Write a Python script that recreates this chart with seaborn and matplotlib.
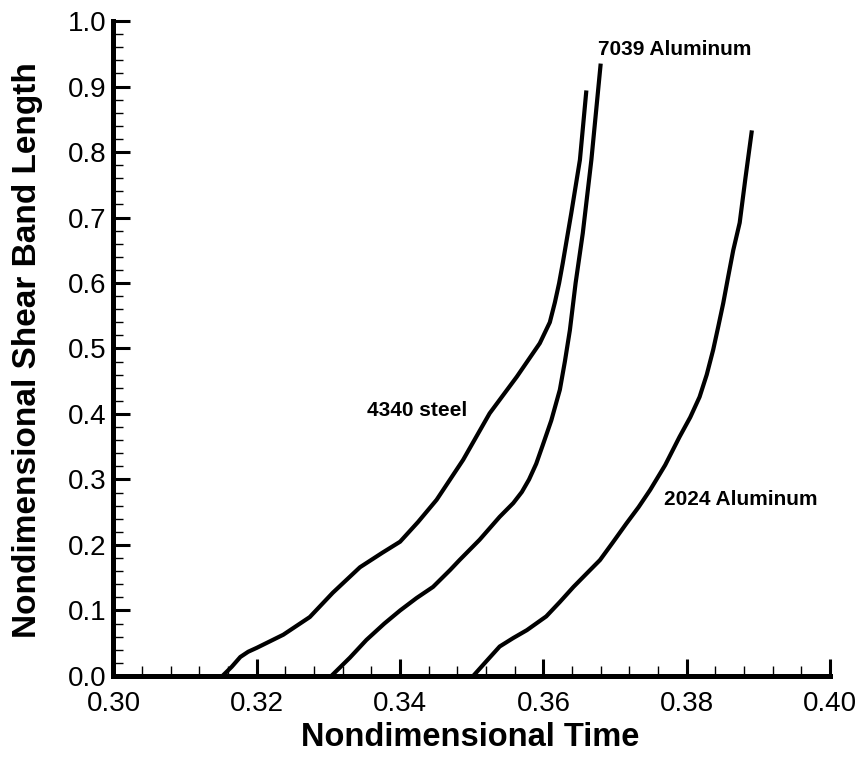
import matplotlib
matplotlib.use("Agg")
import matplotlib.pyplot as plt
import seaborn as sns
import pandas as pd
from matplotlib.ticker import MultipleLocator, FormatStrFormatter

# ---- data ----
steel_x = [0.3152, 0.3165, 0.3177, 0.3188, 0.3200, 0.3237, 0.3274, 0.3306, 0.3344,
           0.3375, 0.3400, 0.3425, 0.3451, 0.3488, 0.3525, 0.3563, 0.3595, 0.3609,
           0.3616, 0.3622, 0.3627, 0.3639, 0.3651, 0.3660]
steel_y = [0.000, 0.014, 0.029, 0.037, 0.043, 0.063, 0.090, 0.127, 0.166,
           0.188, 0.205, 0.235, 0.269, 0.330, 0.401, 0.457, 0.508, 0.540,
           0.570, 0.600, 0.630, 0.707, 0.788, 0.894]

al7039_x = [0.3304, 0.3330, 0.3353, 0.3378, 0.3400, 0.3423, 0.3446, 0.3470, 0.3483,
            0.3511, 0.3539, 0.3558, 0.3570, 0.3580, 0.3590, 0.3599, 0.3611, 0.3623,
            0.3630, 0.3637, 0.3645, 0.3655, 0.3667, 0.3680]
al7039_y = [0.000, 0.028, 0.055, 0.080, 0.100, 0.119, 0.136, 0.162, 0.177,
            0.208, 0.243, 0.264, 0.281, 0.300, 0.324, 0.352, 0.390, 0.437,
            0.480, 0.528, 0.600, 0.676, 0.788, 0.935]

al2024_x = [0.3502, 0.3520, 0.3539, 0.3558, 0.3577, 0.3604, 0.3623, 0.3642, 0.3660,
            0.3679, 0.3697, 0.3716, 0.3733, 0.3749, 0.3770, 0.3790, 0.3805, 0.3818,
            0.3828, 0.3837, 0.3844, 0.3851, 0.3858, 0.3865, 0.3874, 0.3882, 0.3891]
al2024_y = [0.000, 0.022, 0.045, 0.058, 0.070, 0.091, 0.113, 0.136, 0.156,
            0.177, 0.204, 0.233, 0.258, 0.284, 0.322, 0.365, 0.395, 0.426,
            0.460, 0.498, 0.533, 0.569, 0.610, 0.650, 0.692, 0.760, 0.833]

series_names = ["4340 steel", "7039 Aluminum", "2024 Aluminum"]
label_pos_x = [0.3354, 0.3676, 0.3769]
label_pos_y = [0.406, 0.956, 0.269]

x_label = "Nondimensional Time"
y_label = "Nondimensional Shear Band Length"

sns.set_theme(style="ticks")
plt.rcParams["font.family"] = ["Liberation Sans", "DejaVu Sans"]
for key in ["text.color", "axes.labelcolor", "xtick.color", "ytick.color",
            "axes.edgecolor"]:
    plt.rcParams[key] = "black"

fig = plt.figure(figsize=(8.65, 7.64), dpi=100)
ax = fig.add_axes([0.1312, 0.1152, 0.8283, 0.8573])

frames = [
    pd.DataFrame({"t": steel_x, "L": steel_y}),
    pd.DataFrame({"t": al7039_x, "L": al7039_y}),
    pd.DataFrame({"t": al2024_x, "L": al2024_y}),
]
for df in frames:
    sns.lineplot(data=df, x="t", y="L", ax=ax, color="black", linewidth=3.0,
                 sort=False, estimator=None, solid_capstyle="butt",
                 solid_joinstyle="round")

for name, lx, ly in zip(series_names, label_pos_x, label_pos_y):
    ax.text(lx, ly, name, fontsize=15, fontweight="bold", ha="left", va="center",
            color="black")

ax.set_xlim(0.30, 0.40)
ax.set_ylim(0.0, 1.0)
ax.xaxis.set_major_locator(MultipleLocator(0.02))
ax.xaxis.set_minor_locator(MultipleLocator(0.004))
ax.yaxis.set_major_locator(MultipleLocator(0.1))
ax.yaxis.set_minor_locator(MultipleLocator(0.02))
ax.xaxis.set_major_formatter(FormatStrFormatter("%.2f"))
ax.yaxis.set_major_formatter(FormatStrFormatter("%.1f"))

for s in ["top", "right"]:
    ax.spines[s].set_visible(False)
for s in ["left", "bottom"]:
    ax.spines[s].set_linewidth(3.6)
    ax.spines[s].set_color("black")
    ax.spines[s].set_capstyle("projecting")

ax.tick_params(which="major", direction="in", length=12, width=2.2, color="black",
               labelsize=20)
ax.tick_params(axis="x", which="major", pad=11)
ax.tick_params(axis="y", which="major", pad=5)
ax.tick_params(which="minor", direction="in", length=7, width=1.0, color="black")

ax.set_xlabel(x_label, fontsize=23.5, fontweight="bold")
ax.set_ylabel(y_label, fontsize=24, fontweight="bold")
ax.xaxis.label.set_va("center")
ax.yaxis.label.set_va("center")
ax.xaxis.set_label_coords(0.4976, -0.0945)
ax.yaxis.set_label_coords(-0.1207, 0.4977)

fig.savefig("out.png", dpi=100, facecolor="white")
